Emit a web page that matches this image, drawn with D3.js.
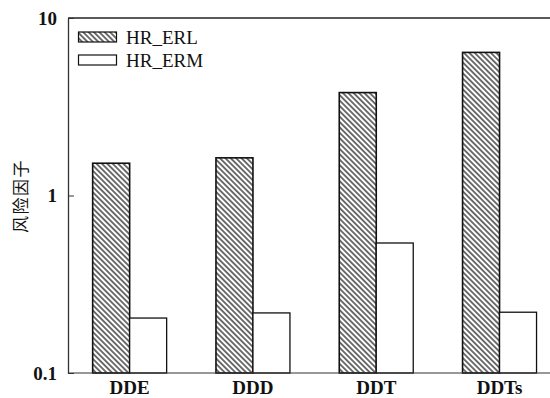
<!DOCTYPE html>
<html><head><meta charset="utf-8">
<script src="https://cdn.jsdelivr.net/npm/d3@7"></script>
<style>body{margin:0;background:#fff}svg{display:block}</style>
</head><body><svg id="c" width="550" height="398"></svg>
<script>
const categories = ["DDE", "DDD", "DDT", "DDTs"];
const seriesNames = ["HR_ERL", "HR_ERM"];
const erl = [1.52, 1.63, 3.8, 6.4];
const erm = [0.204, 0.218, 0.54, 0.22];
const yTicks = [0.1, 1, 10];
const yTickLabels = ["0.1", "1", "10"];
const yLabel = "风险因子";

(function () {
const svg = d3.select("#c");
const mLeft = 68, mTop = 18, mBottom = 373, bandW = 123.3;
const x = d3.scaleBand().domain(categories).range([mLeft, mLeft + bandW * categories.length]).paddingInner(0.4).paddingOuter(0.2);
const x1 = d3.scaleBand().domain(seriesNames).range([0, x.bandwidth()]);
const y = d3.scaleLog().domain([0.1, 10]).range([mBottom, mTop]);

const defs = svg.append("defs");
const pat = defs.append("pattern").attr("id", "hatch").attr("patternUnits", "userSpaceOnUse")
  .attr("width", 3.8).attr("height", 3.8).attr("patternTransform", "rotate(45)");
pat.append("rect").attr("width", 3.8).attr("height", 3.8).attr("fill", "#fff");
pat.append("line").attr("x1", 0).attr("y1", 1.9).attr("x2", 3.8).attr("y2", 1.9).attr("stroke", "#111").attr("stroke-width", 1.2);

const data = categories.map((c, i) => ({c, vals: [erl[i], erm[i]]}));
const g = svg.append("g");
data.forEach(d => {
  d.vals.forEach((v, j) => {
    g.append("rect")
      .attr("x", x(d.c) + x1(seriesNames[j]))
      .attr("y", y(v))
      .attr("width", x1.bandwidth())
      .attr("height", y(0.1) - y(v))
      .attr("fill", j === 0 ? "url(#hatch)" : "#fff")
      .attr("stroke", "#111").attr("stroke-width", j === 0 ? 1.6 : 1.3);
  });
});

svg.append("line").attr("x1", mLeft).attr("x2", 550).attr("y1", mTop).attr("y2", mTop).attr("stroke", "#222").attr("stroke-width", 1.3);
svg.append("line").attr("x1", mLeft).attr("x2", 550).attr("y1", mBottom).attr("y2", mBottom).attr("stroke", "#333").attr("stroke-width", 1.2);

const yAxis = d3.axisLeft(y).tickValues(yTicks).tickSizeInner(-6).tickSizeOuter(0)
  .tickFormat((d, i) => yTickLabels[i]).tickPadding(11);
const ya = svg.append("g").attr("transform", `translate(${mLeft},0)`).call(yAxis);
ya.select(".domain").attr("stroke", "#333").attr("stroke-width", 1.3);
ya.selectAll(".tick line").attr("stroke", "#333");
ya.selectAll("text").attr("font-family", "Liberation Serif").attr("font-size", 19).attr("font-weight", "bold").attr("fill", "#111");

const xAxis = d3.axisBottom(x).tickSize(0).tickPadding(8);
const xa = svg.append("g").attr("transform", `translate(0,${mBottom})`).call(xAxis);
xa.select(".domain").remove();
xa.selectAll("text").attr("font-family", "Liberation Serif").attr("font-size", 19).attr("font-weight", "bold").attr("fill", "#111");

svg.append("text").attr("transform", `translate(27,196) rotate(-90)`).attr("text-anchor", "middle")
  .attr("font-family", "Noto Sans CJK SC").attr("font-size", 17).attr("letter-spacing", 1.5).attr("fill", "#111").text(yLabel);

const leg = svg.append("g");
seriesNames.forEach((s, j) => {
  const yy = 32 + j * 23;
  leg.append("rect").attr("x", 78.5).attr("y", yy).attr("width", 38).attr("height", 10)
    .attr("fill", j === 0 ? "url(#hatch)" : "#fff").attr("stroke", "#111").attr("stroke-width", 1.2);
  leg.append("text").attr("x", 126).attr("y", yy + 12).attr("font-family", "Liberation Serif").attr("font-size", 19).attr("fill", "#111").text(s);
});
})();
</script></body></html>
